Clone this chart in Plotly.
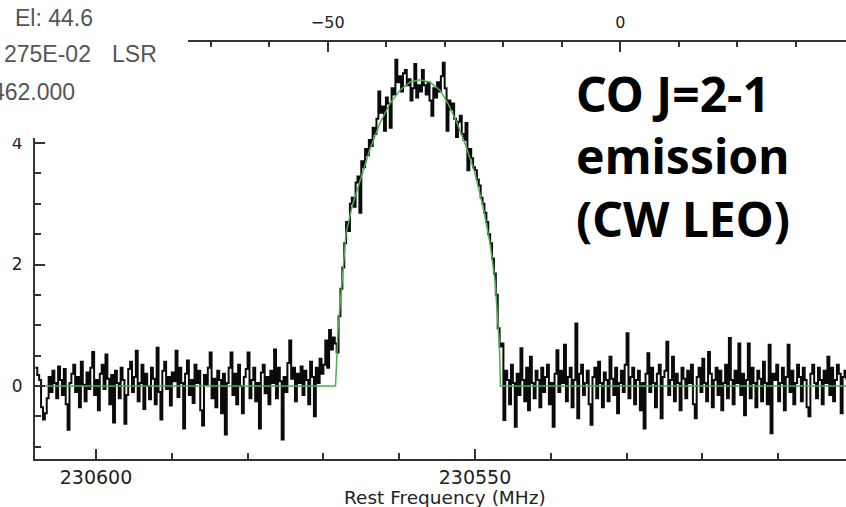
import plotly.graph_objects as go

# ---------------- data ----------------
freq_start = 230608.0      # MHz, first channel
chan_width = 0.25          # MHz per channel (frequency decreases to the right)

base_left = [0.30, 0.18, 0.10, -0.35, -0.55, -0.45, -0.20, 0.15, -0.10, 0.25,
             0.05, -0.20, 0.32, 0.10, -0.15, 0.28, -0.30, -0.72, 0.05, 0.20,
             0.35, -0.10, 0.15, -0.35, 0.40, 0.02, -0.25, 0.22, -0.05, 0.30,
             0.56, -0.15, 0.10, -0.40, 0.20, 0.35, -0.05, 0.52, 0.12, -0.30,
             0.18, -0.60, 0.25, 0.05, -0.20, 0.30, 0.10, -0.62, -0.15, 0.28,
             0.40, -0.10, 0.15, 0.58, -0.25, 0.05, 0.35, -0.38, 0.20, 0.00,
             -0.22, 0.30, 0.12, -0.30, 0.63, -0.10, -0.55, 0.25, 0.40, -0.05,
             0.15, -0.32, 0.22, 0.08, 0.58, -0.18, 0.30, 0.05, -0.70, 0.20,
             0.42, -0.15, 0.10, -0.28, 0.35, 0.05, 0.25, -0.40, -0.65, 0.18,
             0.02, 0.30, 0.55, -0.20, 0.12, -0.35, 0.25, 0.10, -0.45, 0.20,
             -0.80, 0.05, 0.30, 0.55, -0.15, 0.20, -0.30, 0.35, 0.00, -0.45,
             0.15, 0.28, 0.55, -0.20, 0.10, 0.30, -0.25, 0.05, -0.70, 0.22,
             0.35, -0.12, 0.15, -0.30, 0.25, 0.05, 0.60, -0.20, 0.30, 0.08,
             -0.88, 0.15, -0.10, 0.38, 0.75, 0.12, 0.30, -0.25, 0.20, 0.05,
             0.32, -0.15, 0.25, 0.10, -0.30, 0.40, 0.15, -0.50, 0.30, 0.05,
             0.45, 0.20, 0.35, 0.75, 0.30, 0.92, 0.60, 0.80, 0.70]

line_core = [0.55, 1.15, 1.60, 1.95, 2.35, 2.70, 2.55, 3.00, 3.10, 2.95,
             3.35, 3.45, 2.85, 3.70, 3.60, 3.90, 3.80, 4.05, 3.95, 4.25,
             4.15, 4.40, 4.85, 4.50, 4.60, 4.20, 4.75, 4.65, 4.25, 4.90,
             4.80, 5.37, 5.00, 5.10, 4.85, 5.15, 5.20, 4.95, 5.05, 4.70,
             4.90, 5.30, 4.75, 4.95, 4.85, 5.20, 4.95, 4.80, 5.00, 4.70,
             4.45, 4.90, 4.75, 5.00, 4.85, 5.10, 5.32, 4.90, 4.20, 4.70,
             4.55, 4.65, 4.40, 4.10, 4.35, 4.45, 4.15, 4.05, 4.33, 3.55,
             3.90, 3.75, 3.60, 3.55, 3.40, 3.30, 3.10, 3.00, 2.85, 2.70,
             2.50, 2.35, 2.10, 1.85, 1.50, 0.95, 0.65]

base_right = [0.70, -0.56, 0.25, 0.10, -0.30, 0.35, 0.05, -0.67, 0.20, -0.15,
              0.62, 0.10, -0.25, 0.30, -0.40, 0.48, 0.05, -0.20, 0.25, 0.10,
              -0.35, 0.30, -0.10, 0.15, 0.35, -0.30, 0.05, -0.67, 0.20, 0.59,
              -0.10, 0.25, 0.05, 0.68, -0.25, 0.15, 0.30, -0.35, 0.10, 1.03,
              -0.53, 0.20, 0.35, -0.15, 0.05, 0.25, -0.30, -0.64, 0.15, 0.30,
              -0.20, 0.40, 0.05, -0.35, 0.22, 0.10, -0.25, 0.48, 0.12, -0.15,
              0.30, -0.45, 0.05, 0.25, -0.10, 0.35, 0.87, -0.20, 0.15, 0.30,
              -0.30, 0.10, 0.25, -0.40, 0.05, -0.70, 0.20, 0.54, -0.10, 0.30,
              0.05, -0.35, 0.20, 0.35, -0.53, 0.15, 0.25, 0.73, -0.15, 0.10,
              0.48, -0.25, 0.20, 0.05, -0.40, 0.30, 0.12, -0.20, 0.25, 0.05,
              0.35, -0.30, -0.53, 0.15, 0.30, -0.10, 0.45, 0.05, -0.25, 0.56,
              0.20, -0.35, 0.10, 0.30, -0.15, 0.25, -0.40, 0.05, 0.35, -0.20,
              0.79, 0.10, -0.30, 0.25, 0.05, 0.70, -0.15, 0.20, -0.48, 0.10,
              0.70, -0.20, 0.30, 0.05, -0.35, 0.25, 0.12, -0.25, 0.40, 0.05,
              -0.30, 0.68, -0.78, 0.20, 0.10, 0.35, -0.25, 0.05, 0.30, -0.40,
              0.15, 0.68, -0.10, 0.25, -0.30, 0.05, 0.35, 0.15, -0.25, 0.30,
              0.10, -0.35, -0.50, 0.20, 0.35, 0.05, -0.20, 0.30, 0.10, -0.30,
              0.25, 0.05, 0.48, -0.15, 0.30, -0.25, 0.10, 0.35, 0.20, -0.45,
              0.15, 0.25, 0.10]

# green shell-profile fit
fit_freq = [230608.05, 230568.40, 230568.07, 230567.55, 230567.02, 230566.23,
            230564.91, 230563.85, 230562.53, 230561.21, 230559.89, 230558.58,
            230557.26, 230555.94, 230554.62, 230553.56, 230552.37, 230551.19,
            230550.00, 230548.94, 230548.02, 230547.36, 230546.79, 230546.64,
            230501.05]
fit_vals = [0.0, 0.0, 0.92, 1.74, 2.50, 2.95,
            3.50, 3.90, 4.33, 4.65, 4.87, 5.00,
            5.04, 5.00, 4.87, 4.65, 4.33, 3.95,
            3.50, 2.95, 2.35, 1.74, 0.70, 0.0,
            0.0]

header_lines = ["El: 44.6", "275E-02", "LSR", "462.000"]
label_text = "CO J=2-1<br>emission<br>(CW LEO)"
x_title = "Rest Frequency (MHz)"

freq_range = [230608.05, 230501.05]   # MHz (bottom axis, reversed)
vel_range = [-100.0, 38.54]           # km/s (top axis)
vel_labels = [-50, 0]                 # labelled velocity ticks
int_range = [-1.202, 5.663]           # intensity

# -------------------------------------------------------------
intensity = base_left + line_core + base_right
freqs = [freq_start - chan_width * i for i in range(len(intensity))]

W, H = 846, 507
L, R, T, B = 35, 0, 42, 48
pw, ph = W - L - R, H - T - B


def px(x):
    return (x - L) / pw


def py(y):
    return (H - B - y) / ph


axcol = "#333333"
tfam = "DejaVu Sans, Liberation Sans, sans-serif"

fig = go.Figure()
fig.add_trace(go.Scatter(x=freqs, y=intensity, mode="lines",
                         line=dict(color="#0a0a0a", width=2.0, shape="hv"),
                         hoverinfo="skip", showlegend=False))
fig.add_trace(go.Scatter(x=fit_freq, y=fit_vals, mode="lines",
                         line=dict(color="#4cb04c", width=1.5),
                         hoverinfo="skip", showlegend=False))
fig.add_trace(go.Scatter(x=vel_range, y=[None, None], xaxis="x2", yaxis="y",
                         mode="lines", hoverinfo="skip", showlegend=False))

fig.update_layout(
    width=W, height=H,
    margin=dict(l=L, r=R, t=T, b=B, pad=0),
    paper_bgcolor="white", plot_bgcolor="white",
    showlegend=False,
    xaxis=dict(range=freq_range, autorange=False, showgrid=False, zeroline=False,
               showline=True, linecolor=axcol, linewidth=2,
               ticks="inside", ticklen=10, tickwidth=1.5, tickcolor=axcol,
               tick0=230550, dtick=50, tickformat="d", ticklabelstandoff=0,
               minor=dict(ticks="inside", ticklen=6, tickwidth=1.5, tickcolor=axcol,
                          tick0=230550, dtick=10, showgrid=False),
               tickfont=dict(size=19, family=tfam, color="#222222")),
    xaxis2=dict(range=vel_range, autorange=False, overlaying="x", side="top",
                anchor="y", showgrid=False, zeroline=False,
                showline=True, linecolor=axcol, linewidth=2,
                ticks="inside", ticklen=10, tickwidth=1.5, tickcolor=axcol,
                tickmode="array", tickvals=vel_labels, ticklabelstandoff=6,
                minor=dict(ticks="inside", ticklen=5, tickwidth=1.5, tickcolor=axcol,
                           tickmode="linear", tick0=0, dtick=10, showgrid=False),
                tickfont=dict(size=16, family=tfam, color="#222222")),
    yaxis=dict(range=int_range, autorange=False, showgrid=False, zeroline=False,
               showline=True, linecolor=axcol, linewidth=2,
               ticks="inside", ticklen=10, tickwidth=1.5, tickcolor=axcol,
               tick0=0, dtick=2, ticklabelstandoff=7,
               minor=dict(ticks="inside", ticklen=6, tickwidth=1.5, tickcolor=axcol,
                          tick0=0, dtick=0.5, showgrid=False),
               tickfont=dict(size=17, family=tfam, color="#222222")),
)

# white block hiding the top-left corner of the frame (header area)
fig.add_shape(type="rect", xref="paper", yref="paper",
              x0=px(-10), x1=px(188), y0=py(138), y1=py(-10),
              fillcolor="white", line=dict(width=0), layer="above")

hfont = dict(family="Liberation Sans, Arial, sans-serif", size=23, color="#555555")
for txt, x, y in zip(header_lines, [13, 2, 110, -10], [18, 54, 54, 92]):
    fig.add_annotation(text=txt, xref="paper", yref="paper", x=px(x), y=py(y),
                       xanchor="left", yanchor="middle", showarrow=False, font=hfont)

fig.add_annotation(text=label_text, xref="paper", yref="paper",
                   x=px(574), y=py(156), xanchor="left", yanchor="middle",
                   align="left", showarrow=False,
                   font=dict(family="Noto Sans, Open Sans, sans-serif", size=48,
                             color="black", weight="bold"))

fig.add_annotation(text=x_title, xref="paper", yref="paper",
                   x=px(445), y=py(497), xanchor="center", yanchor="middle",
                   showarrow=False,
                   font=dict(family=tfam, size=18.5, color="#222222"))

fig.write_html("out.html")
